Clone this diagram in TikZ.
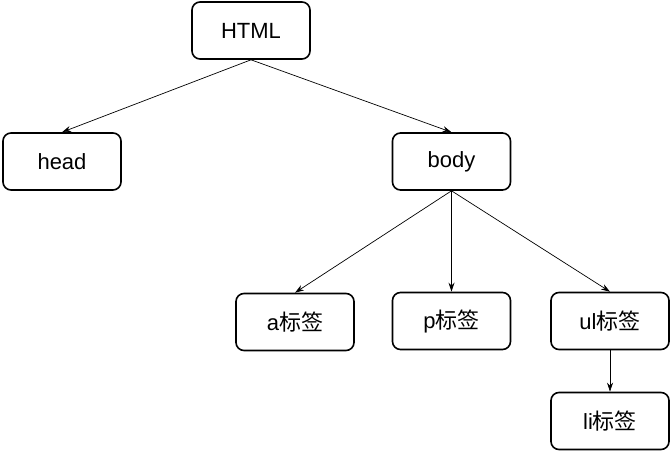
\documentclass[tikz,border=0pt]{standalone}
\usepackage{fontspec}
\setmainfont{Liberation Sans}
\newfontfamily\cjk{Noto Sans CJK SC}
\usetikzlibrary{arrows.meta}
\begin{document}
\begin{tikzpicture}[x=1pt,y=-1pt,
 box/.style={draw, line width=1.6pt, rounded corners=8pt, minimum width=118pt, minimum height=57pt, font=\fontsize{22}{26}\selectfont, inner sep=0pt},
 arr/.style={-{Stealth[length=9pt,width=6pt]}, line width=0.7pt}]
\useasboundingbox (0,0) rectangle (672,452);
\node[box] (html) at (251,30.5) {HTML};
\node[box] (head) at (62,161.5) {head};
\node[box] (body) at (451.5,161.5) {body};
\node[box] (a) at (295,322) {a{\cjk 标签}};
\node[box] (p) at (451.5,321) {p{\cjk 标签}};
\node[box] (ul) at (610,321) {ul{\cjk 标签}};
\node[box] (li) at (610,421) {li{\cjk 标签}};
\draw[arr] (html.south) -- (head.north);
\draw[arr] (html.south) -- (body.north);
\draw[arr] (body.south) -- (a.north);
\draw[arr] (body.south) -- (p.north);
\draw[arr] (body.south) -- (ul.north);
\draw[arr] (ul.south) -- (li.north);
\end{tikzpicture}
\end{document}
